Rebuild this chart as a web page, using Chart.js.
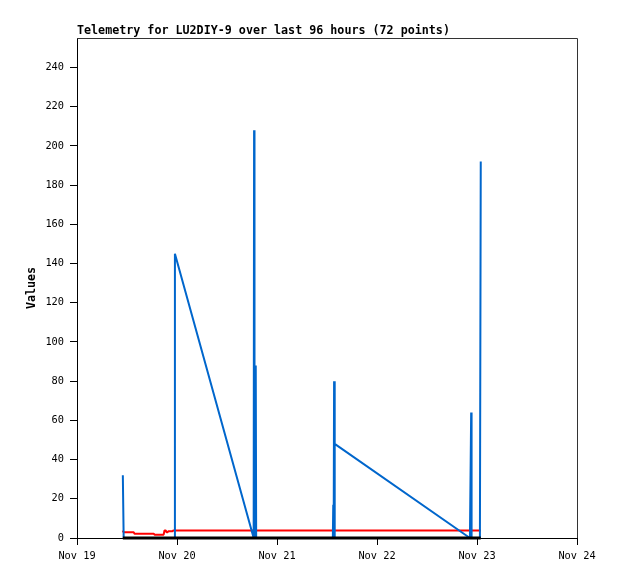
<!DOCTYPE html>
<html>
<head>
<meta charset="utf-8">
<script src="https://cdn.jsdelivr.net/npm/chart.js@4.4.0/dist/chart.umd.min.js"></script>
<style>
html,body{margin:0;padding:0;background:#fff;}
#wrap{position:absolute;left:0;top:0;width:618px;height:579px;}
</style>
</head>
<body>
<div id="wrap"><canvas id="c" width="618" height="579"></canvas></div>
<script>
// Hours since Nov 19 00:00
const hours = [11.0, 11.2, 13.6, 13.8, 18.4, 18.6, 20.8, 21.0, 21.3, 21.5, 21.7, 21.9, 22.9, 23.1, 23.3, 23.5,
               42.4, 42.5, 42.6, 42.9, 43.0, 61.4, 61.5, 61.6, 61.7, 61.8, 61.9, 94.3, 94.6, 94.7, 96.7, 96.9];
const blueValues = [32, 0, 0, 0, 0, 0, 0, 0, 0, 0, 0, 0, 0, 0, 0, 145,
                    0, 208, 0, 88, 0, 0, 17, 0, 80, 0, 48, 0, 64, 0, 0, 192];
const redValues  = [3.8, 2.9, 2.9, 2.2, 2.2, 1.7, 1.7, 3.8, 3.8, 2.9, 2.9, 3.4, 3.4, 3.8, 3.8, 3.8,
                    3.8, 3.8, 3.8, 3.8, 3.8, 3.8, 3.8, 3.8, 3.8, 3.8, 3.8, 3.8, 3.8, 3.8, 3.8, 3.8];
const blackValues = [0, 0, 0, 0, 0, 0, 0, 0, 0, 0, 0, 0, 0, 0, 0, 0,
                     0, 0, 0, 0, 0, 0, 0, 0, 0, 0, 0, 0, 0, 0, 0, 0];
const xTickLabels = ["Nov 19", "Nov 20", "Nov 21", "Nov 22", "Nov 23", "Nov 24"];
const titleText = "Telemetry for LU2DIY-9 over last 96 hours (72 points)";
const yAxisTitle = "Values";

const toPts = vals => hours.map((h, i) => ({x: h, y: vals[i]}));
const MONO = '"DejaVu Sans Mono", "Liberation Mono", monospace';

const framePlugin = {
  id: 'frame',
  afterDraw(chart) {
    const ctx = chart.ctx, a = chart.chartArea;
    ctx.save();
    ctx.strokeStyle = '#333';
    ctx.lineWidth = 1;
    ctx.beginPath();
    ctx.moveTo(a.left, a.top + 0.5);
    ctx.lineTo(a.right + 0.5, a.top + 0.5);
    ctx.lineTo(a.right + 0.5, a.bottom);
    ctx.stroke();
    ctx.fillStyle = '#000';
    ctx.font = 'bold 11.7px ' + MONO;
    ctx.textAlign = 'left';
    ctx.textBaseline = 'alphabetic';
    ctx.fillText(titleText, a.left, 34);
    ctx.restore();
  }
};

const lineDs = (vals, color, w, order) => ({
  data: toPts(vals), borderColor: color, borderWidth: w, pointRadius: 0, tension: 0, order: order,
  fill: false, clip: 4, borderJoinStyle: 'bevel', borderCapStyle: 'butt'
});

new Chart(document.getElementById('c'), {
  type: 'line',
  data: {
    datasets: [
      lineDs(blueValues, '#0066cc', 2, 1),
      lineDs(redValues, '#ff0000', 2, 2),
      lineDs(blackValues, '#000000', 3, 0)
    ]
  },
  options: {
    responsive: false,
    animation: false,
    devicePixelRatio: 1,
    layout: {padding: {left: 0, right: 41, top: 38, bottom: 0}},
    plugins: {legend: {display: false}, tooltip: {enabled: false}, title: {display: false}},
    scales: {
      x: {
        type: 'linear', min: 0, max: 120,
        afterFit(s) { s.height = 41; },
        grid: {drawOnChartArea: false, color: '#000', tickLength: 7, tickWidth: 1},
        border: {color: '#000', width: 1},
        ticks: {
          stepSize: 24, color: '#000', padding: 5,
          font: {family: MONO, size: 10.3},
          maxRotation: 0, autoSkip: false,
          callback: (v) => xTickLabels[Math.round(v / 24)]
        }
      },
      y: {
        type: 'linear', min: 0, max: 255,
        afterFit(s) { s.width = 77; },
        grid: {drawOnChartArea: false, color: '#000', tickLength: 7, tickWidth: 1},
        border: {color: '#000', width: 1},
        ticks: {stepSize: 20, includeBounds: false, color: '#000', padding: 6, font: {family: MONO, size: 10.3}},
        title: {display: true, text: yAxisTitle, color: '#000', font: {family: MONO, size: 11.7, weight: 'bold'}, padding: {top: 25, bottom: 0}}
      }
    }
  },
  plugins: [framePlugin]
});
</script>
</body>
</html>
